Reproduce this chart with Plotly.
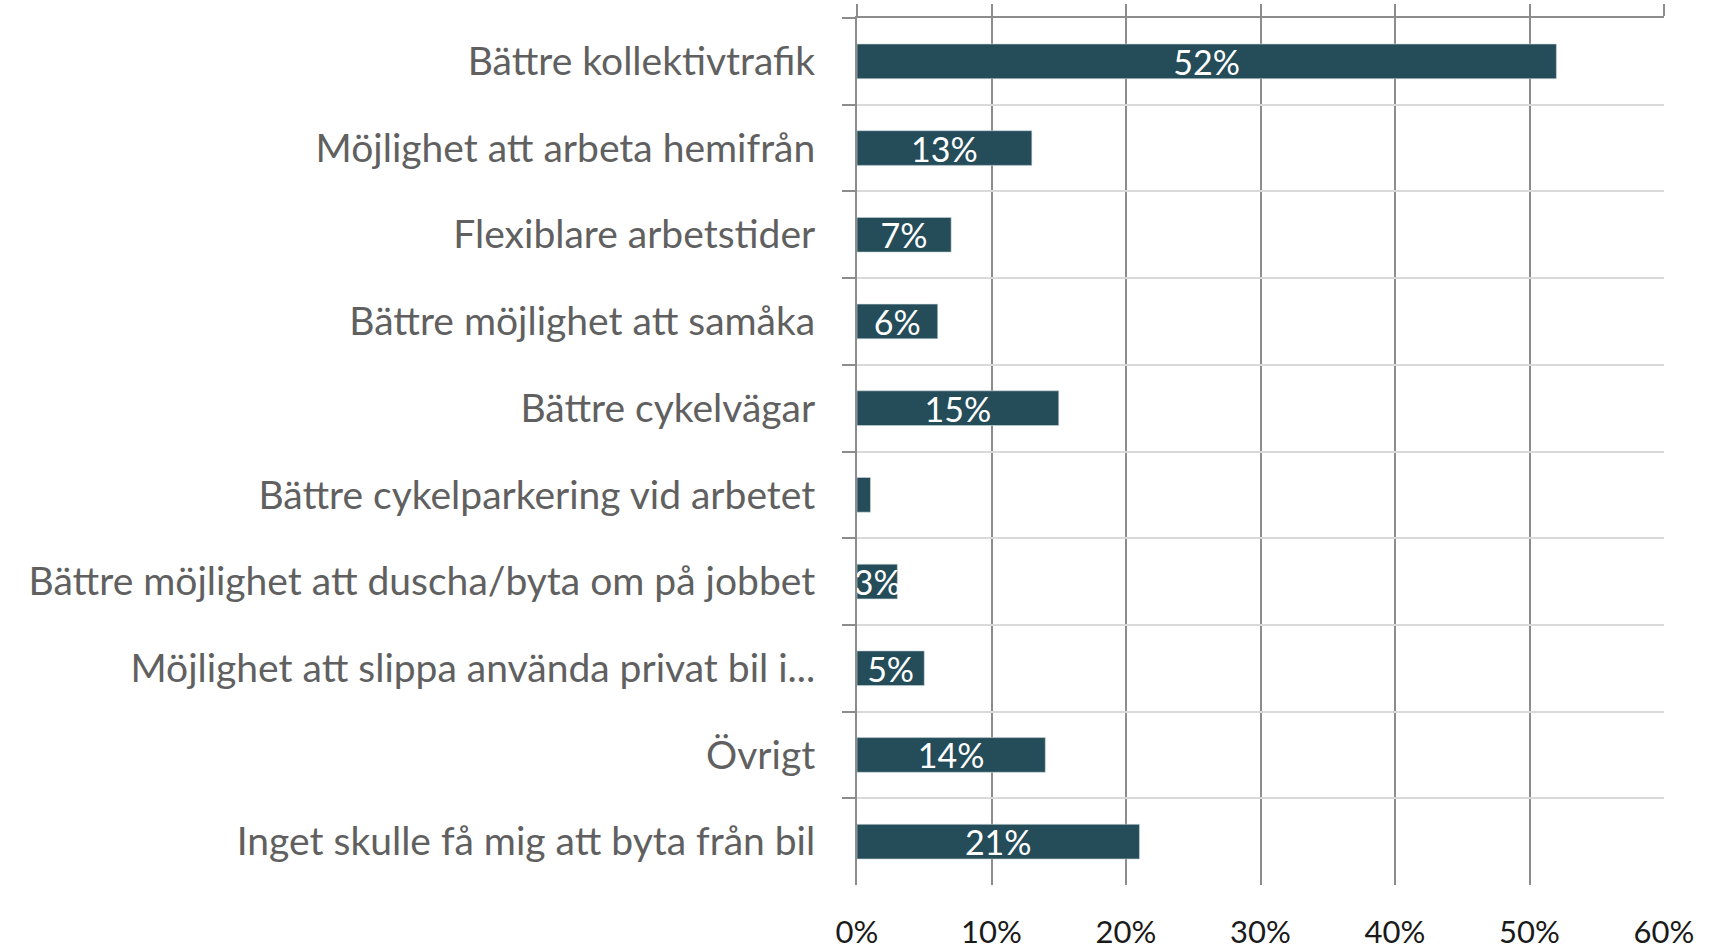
import plotly.graph_objects as go

categories = [
    "Bättre kollektivtrafik",
    "Möjlighet att arbeta hemifrån",
    "Flexiblare arbetstider",
    "Bättre möjlighet att samåka",
    "Bättre cykelvägar",
    "Bättre cykelparkering vid arbetet",
    "Bättre möjlighet att duscha/byta om på jobbet",
    "Möjlighet att slippa använda privat bil i...",
    "Övrigt",
    "Inget skulle få mig att byta från bil",
]
values = [52, 13, 7, 6, 15, 1, 3, 5, 14, 21]
bar_labels = ["52%", "13%", "7%", "6%", "15%", "", "3%", "5%", "14%", "21%"]
tick_vals = [0, 10, 20, 30, 40, 50, 60]
tick_text = ["0%", "10%", "20%", "30%", "40%", "50%", "60%"]

FONT = "Lato"
BAR = "#244C59"
GRID = "#8C8C8C"

fig = go.Figure()
fig.add_trace(go.Bar(
    y=categories, x=values, orientation="h",
    marker=dict(color=BAR, line=dict(color="#C9D6DA", width=0.6)),
    text=bar_labels, textposition="inside", insidetextanchor="middle",
    constraintext="none", cliponaxis=False,
    textfont=dict(family=FONT, size=34, color="white"),
    hoverinfo="skip", showlegend=False,
))
# invisible trace for the top value axis (line + crossing ticks)
fig.add_trace(go.Scatter(x=[0, 60], y=[categories[0], categories[0]], xaxis="x2",
                         mode="markers", marker=dict(opacity=0), showlegend=False,
                         hoverinfo="skip"))

n = len(categories)
fig.update_layout(
    width=1712, height=950,
    margin=dict(l=857, r=48, t=18, b=65),
    paper_bgcolor="white", plot_bgcolor="white",
    bargap=0.6,
    xaxis=dict(
        range=[0, 60], tickvals=tick_vals, ticktext=tick_text,
        showgrid=True, gridcolor=GRID, gridwidth=2,
        zeroline=False, showline=False, ticks="",
        ticklabelstandoff=26, automargin=False,
        tickfont=dict(family=FONT, size=31, color="#1A1A1A"),
    ),
    xaxis2=dict(
        range=[0, 60], overlaying="x", side="top", tickvals=tick_vals,
        showgrid=False, zeroline=False, showline=True, linecolor=GRID, linewidth=2,
        ticks="outside", ticklen=12, tickwidth=2, tickcolor=GRID,
        showticklabels=False, automargin=False,
    ),
    yaxis=dict(
        range=[n - 0.5, -0.5], type="category",
        tickson="boundaries", ticks="outside", ticklen=13, tickwidth=2, tickcolor=GRID,
        showgrid=True, gridcolor="#D9D9D9", gridwidth=2,
        showline=True, linecolor=GRID, linewidth=2,
        ticklabelstandoff=32, automargin=False,
        tickfont=dict(family=FONT, size=39, color="#606060"),
    ),
)

fig.write_html("out.html")
